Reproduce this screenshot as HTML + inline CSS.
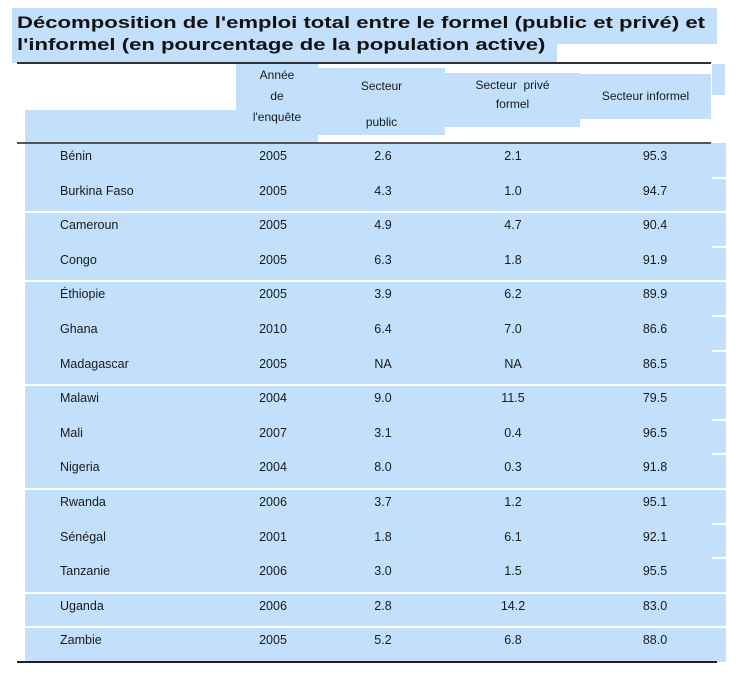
<!DOCTYPE html>
<html><head><meta charset="utf-8"><style>
body{margin:0;width:754px;height:686px;background:#fff;position:relative;overflow:hidden;font-family:"Liberation Sans",sans-serif;color:#1a1a1a}
.a{position:absolute}
.bg{position:absolute;background:#c2e0fc}
.t{position:absolute;font-size:12.5px;white-space:nowrap}
.h{position:absolute;font-size:12px;text-align:center;line-height:20px}
.title{position:absolute;left:17px;font-weight:bold;font-size:17px;color:#111;white-space:nowrap;transform:scaleX(1.3);transform-origin:0 0}
</style></head><body>
<div class="bg" style="left:12px;top:8px;width:705px;height:36px"></div>
<div class="bg" style="left:12px;top:44px;width:545px;height:19px"></div>
<div class="title" style="top:13px">Décomposition de l'emploi total entre le formel (public et privé) et</div>
<div class="title" style="top:35px">l'informel (en pourcentage de la population active)</div>

<div class="bg" style="left:25px;top:110px;width:211px;height:33px"></div>
<div class="bg" style="left:236px;top:64px;width:82px;height:79px"></div>
<div class="bg" style="left:318px;top:68px;width:127px;height:67px"></div>
<div class="bg" style="left:445px;top:73px;width:135px;height:54px"></div>
<div class="bg" style="left:580px;top:74px;width:131px;height:45px"></div>
<div class="bg" style="left:712px;top:64px;width:13px;height:31px"></div>
<div class="bg" style="left:25px;top:143px;width:701px;height:519px"></div>

<div class="h" style="left:236px;top:65px;width:82px;line-height:21px">Année<br>de<br>l'enquête</div>
<div class="h" style="left:318px;top:68px;width:127px;line-height:36px">Secteur<br>public</div>
<div class="h" style="left:445px;top:76px;width:135px;line-height:19px">Secteur&nbsp; privé<br>formel</div>
<div class="h" style="left:580px;top:86px;width:131px">Secteur informel</div>

<div class="a" style="left:17px;top:62px;width:694px;height:1.5px;background:#333"></div>
<div class="a" style="left:17px;top:142px;width:694px;height:1.5px;background:#555"></div>
<div class="a" style="left:17px;top:661px;width:700px;height:1.5px;background:#222"></div>
<div id="rows"></div>
<script>
const countries=["Bénin","Burkina Faso","Cameroun","Congo","Éthiopie","Ghana","Madagascar","Malawi","Mali","Nigeria","Rwanda","Sénégal","Tanzanie","Uganda","Zambie"];
const years=["2005","2005","2005","2005","2005","2010","2005","2004","2007","2004","2006","2001","2006","2006","2005"];
const publicSector=["2.6","4.3","4.9","6.3","3.9","6.4","NA","9.0","3.1","8.0","3.7","1.8","3.0","2.8","5.2"];
const privateSector=["2.1","1.0","4.7","1.8","6.2","7.0","NA","11.5","0.4","0.3","1.2","6.1","1.5","14.2","6.8"];
const informalSector=["95.3","94.7","90.4","91.9","89.9","86.6","86.5","79.5","96.5","91.8","95.1","92.1","95.5","83.0","88.0"];
const groupBreaks=[2,4,7,10,13,14];
const root=document.getElementById('rows');
const pitch=34.6, top0=143;
const cols=[[60,countries,'left'],[273,years,'c'],[383,publicSector,'c'],[513,privateSector,'c'],[655,informalSector,'c']];
const names=['country','year','public','private','informal'];
countries.forEach((c,i)=>{
  const y=top0+pitch*i+6;
  cols.forEach((col,j)=>{
    const d=document.createElement('div');
    d.className='t';
    d.textContent=col[1][i];
    d.style.top=y+'px';
    if(col[2]==='left'){d.style.left=col[0]+'px';}
    else{d.style.left=(col[0]-40)+'px';d.style.width='80px';d.style.textAlign='center';}
    
    
    root.appendChild(d);
  });
  if(i>0){
    const s=document.createElement('div');
    s.className='a';
    const full=groupBreaks.includes(i);
    s.style.cssText='top:'+(top0+pitch*i-1)+'px;height:2px;background:#fff;'+(full?'left:25px;width:701px':'left:712px;width:14px');
    
    
    root.appendChild(s);
  }
});
</script>
</body></html>
